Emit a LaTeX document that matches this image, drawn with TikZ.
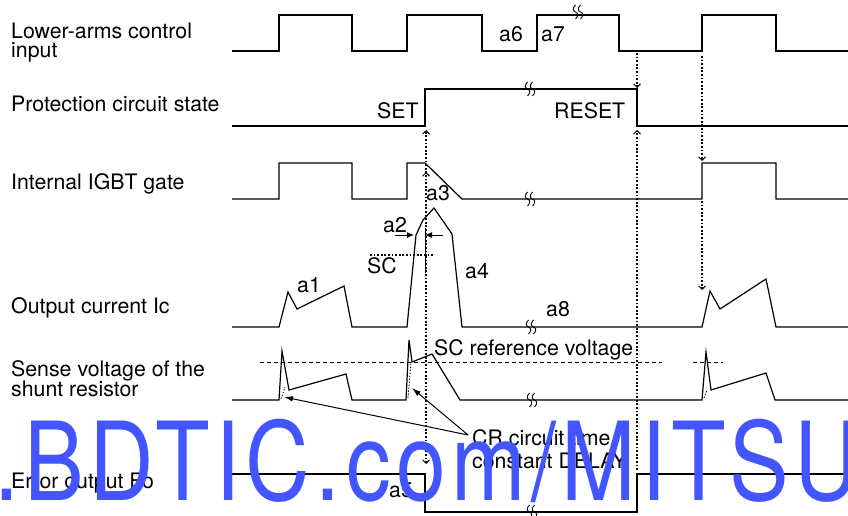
\documentclass[tikz,border=0pt]{standalone}
\usepackage{fontspec}
\setmainfont{TeX Gyre Heros}
\newfontfamily\wmfont[FakeStretch=0.82,LetterSpace=5]{TeX Gyre Heros}
\usetikzlibrary{arrows.meta}
\definecolor{wmblue}{RGB}{66,85,255}
\begin{document}
\begin{tikzpicture}[x=1pt,y=-1pt,
  trace/.style={line width=1.2pt, line join=miter},
  cue/.style={line width=1.7pt, dash pattern=on 1.8pt off 1.8pt},
  cuearrow/.style={cue, -{Straight Barb[length=3.5pt,width=7pt,line width=1pt]}},
  reflevel/.style={line width=0.8pt, dash pattern=on 4pt off 3pt},
  lbl/.style={anchor=base west, inner sep=0pt, font=\fontsize{21.3}{20}\selectfont},
  dimarrow/.style={line width=1pt, -{Latex[length=7pt,width=6pt]}},
  leader/.style={line width=1pt, -{Latex[length=9pt,width=5.5pt]}},
  wavybreak/.pic={
    \draw[line width=0.9pt] (-2.5,-7) .. controls (-5.5,-4) and (-5.5,-1) .. (-2.5,0) .. controls (0.5,1) and (0.5,4) .. (-2.5,7);
    \draw[line width=0.9pt] (2.5,-7) .. controls (-0.5,-4) and (-0.5,-1) .. (2.5,0) .. controls (5.5,1) and (5.5,4) .. (2.5,7);
  }]
\useasboundingbox (0,0) rectangle (848,516);
\fill[white] (0,0) rectangle (848,516);

% row labels
\node[lbl] (l1a) at (11,39) {Lower-arms control};
\node[lbl] (l1b) at (11,58) {input};
\node[lbl] (l2) at (11,112) {Protection circuit state};
\node[lbl] (l3) at (11,189) {Internal IGBT gate};
\node[lbl] (l4) at (11,313) {Output current Ic};
\node[lbl] (l5a) at (11,376) {Sense voltage of the};
\node[lbl] (l5b) at (11,396) {shunt resistor};
\node[lbl] (l6) at (11,488) {Error output Fo};

% traces
\draw[trace] (232,51)--(279,51)--(279,15)--(352,15)--(352,51)--(407,51)--(407,15)--(482,15)--(482,51)--(537,51)--(537,15)--(619,15)--(619,51)--(702,51)--(702,15)--(776,15)--(776,51)--(848,51);
\draw[trace] (232,126)--(425,126)--(425,89)--(637,89)--(637,126)--(848,126);
\draw[trace] (232,199)--(279,199)--(279,163)--(352,163)--(352,199)--(407,199)--(407,163)--(425,163)--(462,199)--(702,199)--(702,163)--(776,163)--(776,199)--(848,199);
\draw[trace] (232,327)--(279,327)--(288,292)--(297,309)--(344,286)--(352,327)--(407,327)--(416,235)--(423,220)--(434,208)--(452,234)--(462,327)--(702,327)--(710,291)--(720,309)--(766,279)--(776,327)--(848,327);
\draw[trace] (232,400)--(279,400)--(282,351)--(289,390)--(346,374)--(352,400)--(406,400)--(409,340)--(412,362)--(432,354)--(460,400)--(702,400)--(706,352)--(711,390)--(766,373)--(775,400)--(848,400);
\draw[trace] (232,474)--(425,474)--(425,512)--(637,512)--(637,474)--(848,474);

% CR delay dotted ramps
\draw[line width=0.8pt, dash pattern=on 1.5pt off 1.5pt] (281,399)--(285,387);
\draw[line width=0.8pt, dash pattern=on 1.5pt off 1.5pt] (408,398)--(411,363);
\draw[line width=0.8pt, dash pattern=on 1.5pt off 1.5pt] (704,398)--(707,390);

% break marks
\pic at (578,12) {wavybreak};
\pic at (530,89) {wavybreak};
\pic at (530,199) {wavybreak};
\pic at (531,327) {wavybreak};
\pic at (532,400) {wavybreak};
\pic at (532,512) {wavybreak};

% reference levels
\draw[reflevel] (260,362)--(662,362);
\draw[reflevel] (693,362)--(723,362);
\draw[cue] (370,255)--(433,255);

% a2 marker
\coordinate (a2l) at (395,235);
\coordinate (a2le) at (414,235);
\coordinate (a2r) at (443,235);
\coordinate (a2re) at (425,235);
\draw[line width=1pt] (425,228)--(425,273);
\draw[dimarrow] (a2l)--(a2le);
\draw[dimarrow] (a2r)--(a2re);

% causal dotted arrows
\coordinate (sc) at (426,256);
\coordinate (setpt) at (426,130);
\coordinate (gatept) at (426,172);
\coordinate (fopt) at (426,464);
\draw[cuearrow] (sc)--(setpt);
\draw[cuearrow] (sc)--(gatept);
\draw[cuearrow] (sc)--(fopt);
\coordinate (rin) at (637,53);
\coordinate (rset) at (637,88);
\coordinate (fors) at (637,470);
\coordinate (rsetb) at (637,130);
\draw[cuearrow] (rin)--(rset);
\draw[cuearrow] (fors)--(rsetb);
\coordinate (in3) at (702,56);
\coordinate (g3) at (702,161);
\coordinate (g3b) at (702,201);
\coordinate (ic3) at (702,290);
\draw[cuearrow] (in3)--(g3);
\draw[cuearrow] (g3b)--(ic3);

% labels
\node[lbl] (a6) at (499,42) {a6};
\node[lbl] (a7) at (541,42) {a7};
\node[lbl] (set) at (377,118) {SET};
\node[lbl] (reset) at (554,118) {RESET};
\node[lbl] (a3) at (426,200) {a3};
\node[lbl] (a2) at (383,232) {a2};
\node[lbl] (scl) at (367,273) {SC};
\node[lbl] (a4) at (465,278) {a4};
\node[lbl] (a1) at (297,292) {a1};
\node[lbl] (a8) at (546,316) {a8};
\node[lbl] (scref) at (434,355) {SC reference voltage};
\node[lbl] (cr1) at (472,445) {CR circuit time};
\node[lbl] (cr2) at (472,468) {constant DELAY};
\node[lbl] (a5) at (389,497) {a5};

% leaders
\coordinate (crs) at (468,435);
\coordinate (crt1) at (284,397);
\coordinate (crt2) at (412,388);
\draw[leader] (crs)--(crt1);
\draw[leader] (crs)--(crt2);

% watermark
\begin{scope}
\clip (0,0) rectangle (848,516);
\node[anchor=base west, inner sep=0pt, text=wmblue, font=\wmfont\fontsize{109}{110}\selectfont] (wm) at (-6,500) {.BDTIC.com/MITSUBISHI};
\end{scope}
\end{tikzpicture}
\end{document}
